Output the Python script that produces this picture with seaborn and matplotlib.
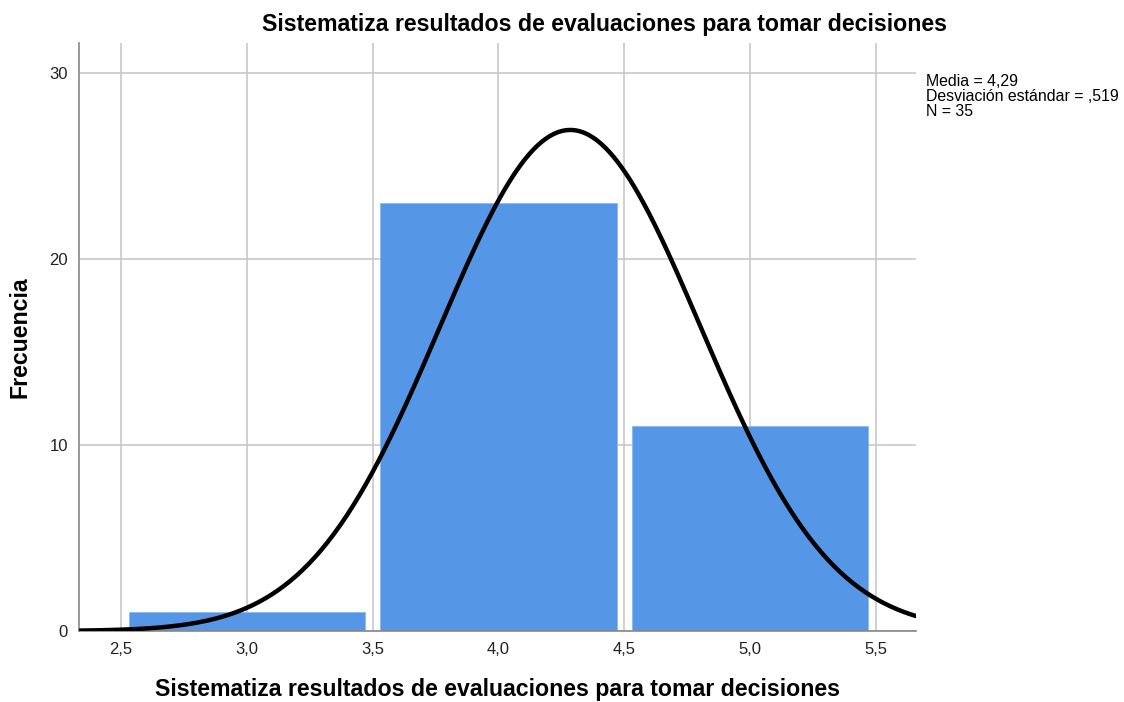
import numpy as np
import pandas as pd
import matplotlib
matplotlib.use('Agg')
import matplotlib.pyplot as plt
import seaborn as sns

# Histogram data
scores = [3, 4, 5]
counts = [1, 23, 11]
bin_edges = [2.5, 3.5, 4.5, 5.5]
x_ticks = [2.5, 3.0, 3.5, 4.0, 4.5, 5.0, 5.5]
y_ticks = [0, 10, 20, 30]

title = 'Sistematiza resultados de evaluaciones para tomar decisiones'

sns.set_style('white')
plt.rcParams['font.family'] = ['Liberation Sans', 'DejaVu Sans']
plt.rcParams['text.color'] = 'black'
plt.rcParams['axes.labelcolor'] = 'black'
plt.rcParams['xtick.color'] = '#222222'
plt.rcParams['ytick.color'] = '#222222'

df = pd.DataFrame({'score': scores, 'count': counts})

# stats for the normal curve
values = np.repeat(scores, counts)
n = len(values)
mean = values.mean()
std = values.std(ddof=1)

fig = plt.figure(figsize=(11.24, 7.02), dpi=100)
ax = fig.add_axes([79 / 1124, 1 - 631 / 702, (916 - 79) / 1124, (631 - 43) / 702])

ax.grid(True, color='#c8c8c8', lw=1.2, zorder=0)
ax.set_axisbelow(True)

sns.histplot(data=df, x='score', weights='count', bins=bin_edges, shrink=0.94,
             color='#5596e6', alpha=1, edgecolor='#8fb8ec', linewidth=0.6, ax=ax, zorder=2)

xs = np.linspace(2.33, 5.66, 400)
ys = n * 1.0 * np.exp(-0.5 * ((xs - mean) / std) ** 2) / (std * np.sqrt(2 * np.pi))
sns.lineplot(x=xs, y=ys, color='black', lw=3.2, ax=ax, zorder=3)

ax.set_xlim(2.333, 5.66)
ax.set_ylim(0, 31.6)
ax.set_xticks(x_ticks)
ax.set_xticklabels([f'{t:.1f}'.replace('.', ',') for t in x_ticks], fontsize=12)
ax.set_yticks(y_ticks)
ax.set_yticklabels([str(t) for t in y_ticks], fontsize=12)
ax.tick_params(length=0, pad=8)

for s in ['top', 'right']:
    ax.spines[s].set_visible(False)
for s in ['left', 'bottom']:
    ax.spines[s].set_color('#888888')
    ax.spines[s].set_linewidth(1.2)

ax.set_xlabel(title, fontsize=16.7, fontweight='bold')
ax.xaxis.set_label_coords(0.5, -0.100)
ax.set_ylabel('Frecuencia', fontsize=16.7, fontweight='bold')
ax.yaxis.set_label_coords(-0.0705, 0.5)
ax.xaxis.label.set_va('center')
ax.yaxis.label.set_va('center')
fig.text(605 / 1124, 1 - 24 / 702, title, fontsize=16.7, fontweight='bold',
         ha='center', va='center')

fig.text(926 / 1124, 1 - 74 / 702,
         f'Media = {mean:.2f}'.replace('.', ',') + '\n'
         + f'Desviación estándar = {std:.3f}'.replace('0.', ',') + '\n'
         + f'N = {n}',
         fontsize=11.4, ha='left', va='top', linespacing=1.0)

fig.savefig('out.png', dpi=100)
